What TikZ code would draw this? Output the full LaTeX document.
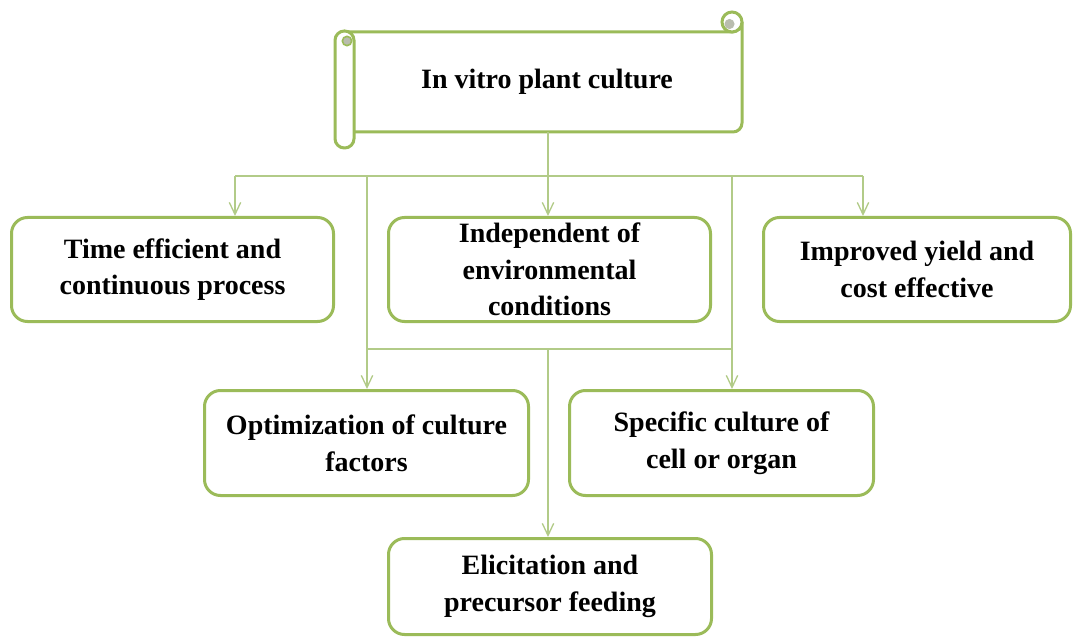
\documentclass[tikz,border=0pt]{standalone}
\usepackage{fontspec}
\setmainfont{Liberation Serif}
\usetikzlibrary{arrows.meta}
\definecolor{boxgreen}{HTML}{9BBB59}
\definecolor{linegreen}{HTML}{B2CB88}
\definecolor{curlgray}{HTML}{B9BDAE}
\begin{document}
\begin{tikzpicture}[x=0.75pt,y=0.75pt,
  txt/.style={align=center, font=\bfseries\fontsize{21}{27.5}\selectfont, inner sep=0pt},
  box/.style={txt, draw=boxgreen, line width=2.25pt, rounded corners=12pt, fill=white},
  scroll/.style={draw=boxgreen, line width=2.25pt, fill=white},
  conn/.style={draw=linegreen, line width=1pt},
  arr/.style={conn, -{Straight Barb[length=9pt,width=8.5pt]}}]
\useasboundingbox (0,0) rectangle (1075,-638);

% scroll shape
\path[scroll] (344,-32) -- (732,-32) arc[start angle=-90,end angle=0,radius=7.5pt]
  -- (742,-123) arc[start angle=0,end angle=-90,radius=6.75pt] -- (344,-132) -- cycle;
\path[scroll] (732,-22) circle[radius=7.5pt];
\fill[curlgray] (729.5,-24) circle[radius=3.8pt];
\path[scroll, rounded corners=7pt] (335,-31) rectangle (354,-148);
\path[scroll, fill=curlgray, line width=1.2pt] (347,-41) circle[radius=3.5pt];

\node[txt, minimum width=292.5pt, minimum height=75pt] (title) at (547,-82) {In vitro plant culture};

% connector coordinates
\coordinate (j1) at (548,-176);
\coordinate (l1) at (235,-176);
\coordinate (r1) at (863,-176);
\coordinate (l2) at (367,-176);
\coordinate (r2) at (732,-176);
\coordinate (j2) at (548,-349);

% boxes
\node[box, minimum width=241.5pt, minimum height=78pt] (b1) at (172.5,-269.5) {Time efficient and\\continuous process};
\node[box, minimum width=241.5pt, minimum height=78pt] (b2) at (549.5,-269.5) {Independent of\\environmental\\conditions};
\node[box, minimum width=230.25pt, minimum height=78pt] (b3) at (917,-269.5) {Improved yield and\\cost effective};
\node[box, minimum width=243pt, minimum height=78.75pt] (b4) at (366.5,-443) {Optimization of culture\\factors};
\node[box, minimum width=228pt, minimum height=78.75pt] (b5) at (721.5,-443) {Specific culture of\\cell or organ};
\node[box, minimum width=242.25pt, minimum height=72pt] (b6) at (550,-586.5) {Elicitation and\\precursor feeding};

% connectors
\draw[conn] (j1 |- title.south) -- (j1);
\draw[conn] (l1) -- (r1);
\draw[arr] (l1) -- (l1 |- b1.north);
\draw[arr] (j1) -- (j1 |- b2.north);
\draw[arr] (r1) -- (r1 |- b3.north);
\draw[arr] (l2) -- (l2 |- b4.north);
\draw[arr] (r2) -- (r2 |- b5.north);
\draw[conn] (l2 |- j2) -- (r2 |- j2);
\draw[arr] (j2) -- (j2 |- b6.north);
\end{tikzpicture}
\end{document}
